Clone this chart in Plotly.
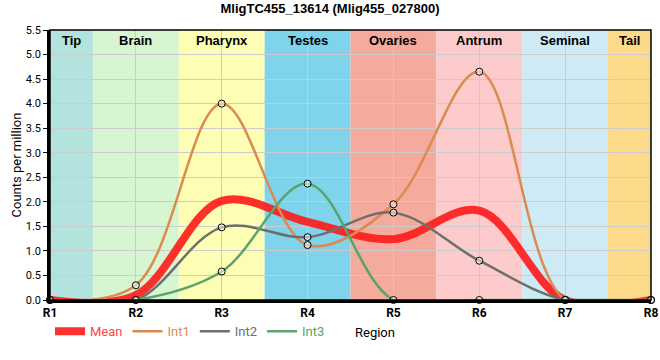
import plotly.graph_objects as go

regions = ["R1", "R2", "R3", "R4", "R5", "R6", "R7", "R8"]
xpos = [1, 2, 3, 4, 5, 6, 7, 8]
int1 = [0.0, 0.30, 4.00, 1.12, 1.95, 4.65, 0.0, 0.0]
int2 = [0.0, 0.0, 1.48, 1.28, 1.78, 0.80, 0.0, 0.0]
int3 = [0.0, 0.0, 0.58, 2.37, 0.0, 0.0, 0.0, 0.0]
mean = [0.0, 0.10, 2.02, 1.59, 1.24, 1.82, 0.0, 0.0]

band_names = ["Tip", "Brain", "Pharynx", "Testes", "Ovaries", "Antrum", "Seminal", "Tail"]
band_edges = [1, 1.5, 2.5, 3.5, 4.5, 5.5, 6.5, 7.5, 8]
band_colors = ["#b3e3de", "#d7f5d0", "#fdfdb3", "#7fd3ea", "#f4aa9c", "#fdcbcb", "#cdeaf5", "#fdd98a"]

ytick_vals = [i * 0.5 for i in range(12)]

fig = go.Figure()

def lbl(name, color):
    return f"<span style='color:{color}'>{name}</span>"

mean_col = "rgba(255,25,25,0.9)"
fig.add_trace(go.Scatter(x=xpos, y=mean, mode="lines", name=lbl("Mean", "#ff4545"),
                         line=dict(color=mean_col, width=8, shape="spline", smoothing=1),
                         cliponaxis=False))
series = [("Int1", int1, "#dd8a4e"), ("Int2", int2, "#6e6e6e"), ("Int3", int3, "#5aa36a")]
for name, ys, col in series:
    fig.add_trace(go.Scatter(x=xpos, y=ys, mode="lines+markers", showlegend=False,
                             line=dict(color=col, width=2.5, shape="spline", smoothing=1),
                             marker=dict(size=7, color="rgba(255,255,255,0.5)",
                                         line=dict(color="black", width=1)),
                             cliponaxis=False))
for name, ys, col in series:
    fig.add_trace(go.Scatter(x=[None], y=[None], mode="lines", name=lbl(name, col),
                             line=dict(color=col, width=2.5)))

shapes = []
annotations = []
for i, nm in enumerate(band_names):
    x0, x1 = band_edges[i], band_edges[i + 1]
    shapes.append(dict(type="rect", xref="x", yref="paper", x0=x0, x1=x1, y0=0, y1=1,
                       fillcolor=band_colors[i], line=dict(width=0), layer="below"))
    annotations.append(dict(x=(x0 + x1) / 2, y=1, xref="x", yref="paper", yanchor="top",
                            yshift=-1, text=f"<b>{nm}</b>", showarrow=False,
                            font=dict(size=13, color="black", family="Liberation Sans, Arial")))
shapes.append(dict(type="rect", xref="paper", yref="paper", x0=0, x1=1, y0=0, y1=1,
                   line=dict(color="black", width=1.5), layer="above"))
annotations.append(dict(x=0.5, y=-0.085, xref="paper", yref="paper", yanchor="top",
                        text="Region", showarrow=False, font=dict(size=13), xshift=24))

fig.update_layout(
    width=660, height=360,
    margin=dict(l=50, r=9, t=30, b=60),
    paper_bgcolor="white", plot_bgcolor="white",
    font=dict(family="Roboto, Arial", size=12, color="black"),
    title=dict(text="<b>MligTC455_13614 (Mlig455_027800)</b>", x=0.5, xanchor="center",
               y=0.99, yanchor="top", automargin=False,
               font=dict(size=13, family="Liberation Sans, Arial")),
    shapes=shapes,
    annotations=annotations,
    showlegend=True,
    legend=dict(orientation="h", x=0.0, xanchor="left", y=-0.06, yanchor="top",
                font=dict(size=13), bgcolor="rgba(0,0,0,0)", itemwidth=30,
                tracegroupgap=0),
    xaxis=dict(range=[1, 8], tickvals=xpos, ticktext=[f"<b>{r}</b>" for r in regions],
               showgrid=True, gridcolor="#cccccc", gridwidth=1, zeroline=False,
               showline=True, linecolor="black", linewidth=2.5, automargin=False,
               ticks="", tickfont=dict(size=12)),
    yaxis=dict(range=[0, 5.5], tickvals=ytick_vals, tickformat=".1f",
               showgrid=True, gridcolor="#cccccc", gridwidth=1, zeroline=False,
               showline=True, linecolor="black", linewidth=2.5, automargin=False,
               ticks="outside", ticklen=4, tickcolor="black",
               title=dict(text="Counts per million", font=dict(size=13), standoff=2),
               tickfont=dict(size=11)),
)

fig.write_html("out.html", config={"displayModeBar": False},
               post_script="document.body.style.margin='0';")
